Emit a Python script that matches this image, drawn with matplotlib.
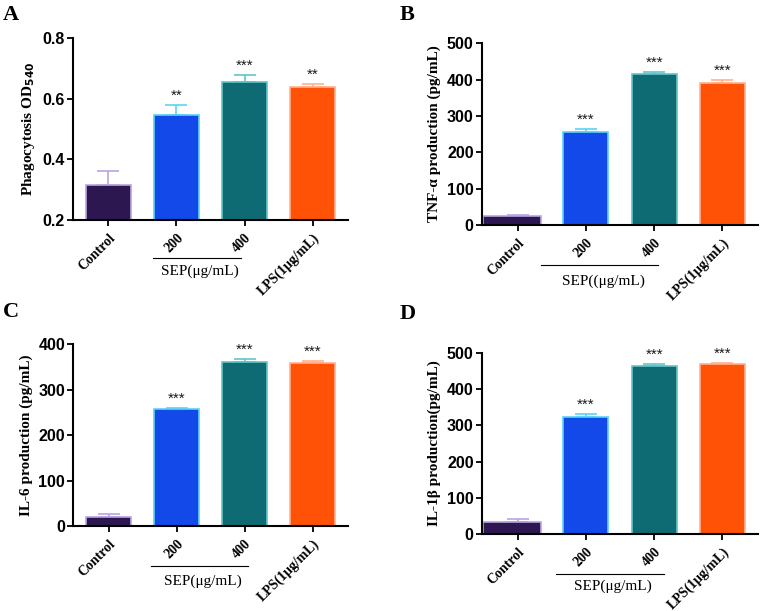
import matplotlib
matplotlib.use("Agg")
import matplotlib.pyplot as plt
import matplotlib.transforms as mtransforms

# data
groups = ['Control', '200', '400', 'LPS(1μg/mL)']

phago_mean = [0.315, 0.547, 0.655, 0.637]
phago_err = [0.045, 0.031, 0.022, 0.010]
phago_sig = ['', '**', '***', '**']

tnf_mean = [26, 256, 415, 392]
tnf_err = [2, 9, 7, 6]
tnf_sig = ['', '***', '***', '***']

il6_mean = [20, 257, 361, 358]
il6_err = [7, 2, 6, 6]
il6_sig = ['', '***', '***', '***']

il1b_mean = [34, 324, 463, 470]
il1b_err = [7, 6, 6, 2]
il1b_sig = ['', '***', '***', '***']

face_colors = ['#2d1750', '#1349e8', '#0f6b73', '#ff5207']
edge_colors = ['#b9a5e2', '#5ad4f4', '#62c6c8', '#ffb08f']

serif = 'Liberation Serif'
sans = 'Liberation Sans'

fig = plt.figure(figsize=(7.6, 6.11), dpi=100)


def panel(rect, letter, letter_xy, means, errs, sigs, ylim, yticks, ylabel,
          sep_text, sep_x, sep_y, sep_text_y, wide_control=False):
    ax = fig.add_axes(rect)
    x = list(range(len(means)))
    for i in x:
        left, w = i - 0.33, 0.66
        if i == 0 and wide_control:
            left, w = -0.5, 0.84
        ax.bar(left, means[i] - ylim[0], width=w, bottom=ylim[0], align='edge',
               color=face_colors[i], edgecolor=edge_colors[i], linewidth=1.2,
               zorder=2)
        ax.errorbar(i, means[i], yerr=[[0], [errs[i]]], fmt='none',
                    ecolor=edge_colors[i], elinewidth=1.2, capsize=8,
                    capthick=1.2, zorder=1)
        if sigs[i]:
            ax.text(i, means[i] + errs[i] + (ylim[1] - ylim[0]) * 0.012, sigs[i],
                    ha='center', va='bottom', fontsize=11, family=sans,
                    color='#1a1a1a')

    ax.set_xlim(-0.52, 3.52)
    ax.set_ylim(*ylim)
    ax.set_yticks(yticks)
    ax.set_yticklabels([f'{t:g}' if isinstance(t, int) else f'{t:.1f}' for t in yticks],
                       fontsize=11.5, fontweight='bold', family=sans)
    ax.set_xticks(x)
    ax.set_xticklabels(groups, rotation=45, ha='right', rotation_mode='anchor',
                       fontsize=10, fontweight='bold', family=serif)
    ax.tick_params(axis='both', direction='out', length=4, width=1.3, pad=2)
    ax.tick_params(axis='x', pad=4)
    for s in ['top', 'right']:
        ax.spines[s].set_visible(False)
    for s in ['left', 'bottom']:
        ax.spines[s].set_linewidth(1.5)
    ax.set_ylabel(ylabel, fontsize=11, fontweight='bold', family=serif, labelpad=4)

    # SEP bracket under the two dose groups
    trans = mtransforms.blended_transform_factory(ax.transData, ax.transAxes)
    ax.plot(sep_x, [sep_y, sep_y], color='black', linewidth=0.8,
            transform=trans, clip_on=False)
    ax.text(sum(sep_x) / 2 + 0.05, sep_text_y, sep_text, transform=trans,
            ha='center', va='center', fontsize=11, family=serif)

    fig.text(letter_xy[0], letter_xy[1], letter, fontsize=16, fontweight='bold',
             family=serif, ha='left', va='baseline')
    return ax


panel([0.0961, 0.640, 0.3618, 0.2979], 'A', (0.004, 0.967),
      phago_mean, phago_err, phago_sig, (0.2, 0.8), [0.2, 0.4, 0.6, 0.8],
      'Phagocytosis OD$_{\\mathbf{540}}$', 'SEP(μg/mL)', (0.65, 1.95), -0.207, -0.28)

panel([0.6342, 0.6318, 0.3632, 0.2974], 'B', (0.526, 0.967),
      tnf_mean, tnf_err, tnf_sig, (0, 500), [0, 100, 200, 300, 400, 500],
      'TNF-α production (pg/mL)', 'SEP((μg/mL)', (0.35, 2.06), -0.22, -0.312,
      wide_control=True)

panel([0.0965, 0.1391, 0.3612, 0.2974], 'C', (0.004, 0.481),
      il6_mean, il6_err, il6_sig, (0, 400), [0, 100, 200, 300, 400],
      'IL-6 production (pg/mL)', 'SEP(μg/mL)', (0.63, 2.05), -0.22, -0.306)

panel([0.6342, 0.1255, 0.3632, 0.2974], 'D', (0.526, 0.478),
      il1b_mean, il1b_err, il1b_sig, (0, 500), [0, 100, 200, 300, 400, 500],
      'IL-1β production(pg/mL)', 'SEP(μg/mL)', (0.56, 2.14), -0.218, -0.284,
      wide_control=True)

fig.savefig('out.png', dpi=100)
